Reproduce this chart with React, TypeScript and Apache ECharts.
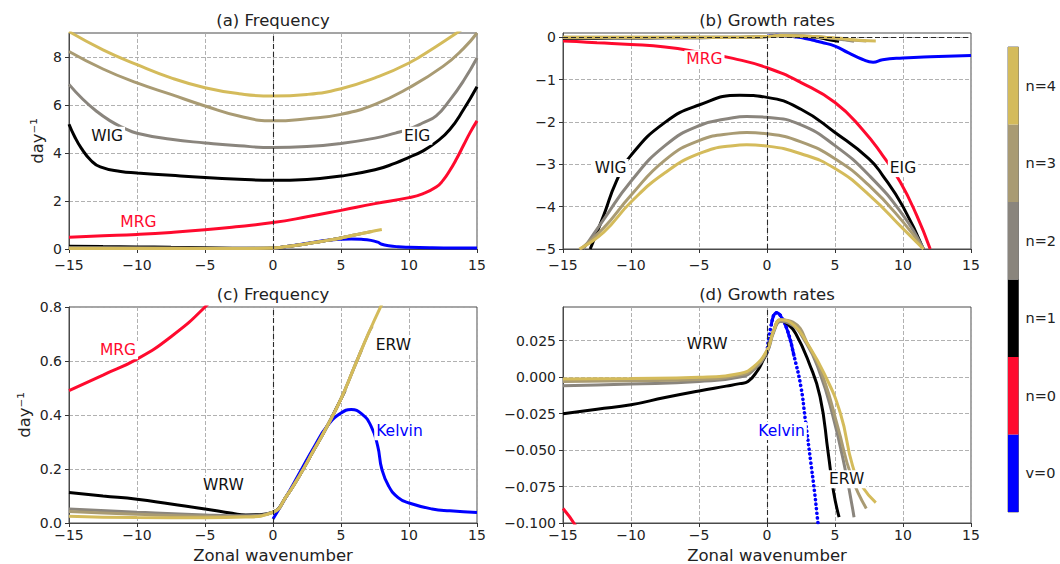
import { useEffect, useRef } from 'react';
import * as echarts from 'echarts';

// ---- Modes / colours (colorbar) ----
const modeNames = ['v=0', 'n=0', 'n=1', 'n=2', 'n=3', 'n=4'];
const modeColors = ['#0000ff', '#ff0a2e', '#000000', '#8a857d', '#a99b73', '#d4bb5b'];

// ---- Frequency (day^-1) vs zonal wavenumber ----
const kelvinFreq = [[0, 0.015], [1, 0.1], [2, 0.19], [3, 0.28], [4, 0.36], [5, 0.407], [5.75, 0.42], [6.5, 0.405], [7.2, 0.36], [7.7, 0.285], [8, 0.2], [8.5, 0.137], [9.2, 0.094], [10, 0.074], [11.7, 0.052], [13, 0.045], [15, 0.039]];
const mrgFreq = [[-15, 0.49], [-12.5, 0.548], [-10, 0.607], [-7.5, 0.69], [-5, 0.8], [-2.5, 0.94], [0, 1.1], [2.5, 1.34], [5, 1.61], [7.5, 1.89], [10, 2.14], [11, 2.3], [12, 2.58], [12.5, 2.86], [13, 3.27], [13.5, 3.76], [14, 4.31], [14.5, 4.86], [15, 5.34]];
const n1IGFreq = [[-15, 5.2], [-14.6, 4.7], [-14.1, 4.2], [-13.4, 3.7], [-12.7, 3.42], [-11.2, 3.23], [-10, 3.17], [-7.5, 3.07], [-5, 2.98], [-2.5, 2.91], [0, 2.86], [2.5, 2.9], [5, 3.04], [7.5, 3.3], [9, 3.58], [10, 3.82], [11, 4.08], [12, 4.45], [13, 4.98], [14, 5.8], [15, 6.76]];
const n2IGFreq = [[-15, 6.86], [-14, 6.25], [-13, 5.75], [-12, 5.35], [-11, 5.05], [-10, 4.82], [-7.5, 4.57], [-5, 4.42], [-2.5, 4.3], [0, 4.23], [2.5, 4.27], [5, 4.4], [7.5, 4.62], [9, 4.83], [10, 5.0], [11, 5.25], [12, 5.55], [13, 6.2], [14, 7.0], [15, 7.96]];
const n3IGFreq = [[-15, 8.23], [-12.5, 7.5], [-10, 6.92], [-7.5, 6.44], [-5, 5.96], [-2.5, 5.54], [0, 5.34], [2.5, 5.43], [5, 5.61], [7.5, 6.03], [10, 6.72], [12.5, 7.61], [14, 8.35], [15, 9.0]];
const n4IGFreq = [[-15, 9.06], [-12.5, 8.3], [-10, 7.68], [-7.5, 7.13], [-5, 6.72], [-2.5, 6.47], [0, 6.37], [2.5, 6.44], [5, 6.68], [7.5, 7.13], [10, 7.75], [12, 8.44], [13.5, 9.0], [14, 9.2]];
const n1RFreq = [[-15, 0.113], [-12.5, 0.1], [-10, 0.088], [-7.5, 0.07], [-5, 0.052], [-3, 0.036], [-2, 0.03], [-1, 0.031], [0, 0.04], [1, 0.1], [2, 0.18], [3, 0.27], [4, 0.36], [5, 0.46], [5.3, 0.49]];
const n2RFreq = [[-15, 0.052], [-10, 0.04], [-5, 0.03], [-2, 0.027], [0, 0.04], [1, 0.1], [2, 0.18], [3, 0.27], [4, 0.36], [5, 0.46], [6, 0.58], [6.5, 0.64]];
const n3RFreq = [[-15, 0.043], [-10, 0.032], [-5, 0.025], [-2, 0.024], [0, 0.04], [1, 0.1], [2, 0.18], [3, 0.27], [4, 0.36], [5, 0.46], [6, 0.58], [7, 0.7], [7.3, 0.73]];
const n4RFreq = [[-15, 0.025], [-10, 0.02], [-5, 0.019], [-2, 0.022], [0, 0.04], [1, 0.1], [2, 0.18], [3, 0.27], [4, 0.36], [5, 0.46], [6, 0.58], [7, 0.7], [8, 0.81]];

// ---- Growth rates (day^-1) vs zonal wavenumber ----
const kelvinGrowth = [[0, 0.017], [0.3, 0.035], [0.7, 0.044], [1, 0.042], [1.5, 0.032], [2, 0.014], [2.5, -0.007], [2.8, -0.028], [3.2, -0.057], [3.5, -0.079], [3.7, -0.096], [4, -0.12], [5, -0.21], [6, -0.37], [7, -0.52], [7.8, -0.59], [8.5, -0.53], [10, -0.49], [12, -0.46], [15, -0.43]];
const mrgGrowth = [[-15, -0.09], [-14, -0.103], [-12.5, -0.13], [-10, -0.17], [-7.5, -0.23], [-5, -0.35], [-2.5, -0.5], [0, -0.72], [2.5, -1.07], [5, -1.54], [7, -2.17], [8.5, -2.79], [9.8, -3.42], [11, -4.2], [12, -5]];
const n1IGGrowth = [[-13, -5], [-12, -4.2], [-11.1, -3.42], [-10, -2.79], [-7.5, -2.01], [-5, -1.6], [-2, -1.37], [0, -1.42], [2.5, -1.7], [5, -2.25], [7.5, -2.87], [8.5, -3.26], [10, -4.0], [11.5, -5]];
const n2IGGrowth = [[-13.5, -5], [-12, -4.3], [-10, -3.4], [-7.5, -2.56], [-5, -2.09], [-2.5, -1.9], [-1.5, -1.87], [0, -1.89], [2.5, -2.07], [5, -2.56], [7.5, -3.26], [10, -4.2], [11.5, -5]];
const n3IGGrowth = [[-13.7, -5], [-12, -4.5], [-10, -3.73], [-7.5, -2.9], [-5, -2.44], [-2.5, -2.27], [-1.5, -2.25], [0, -2.28], [2.5, -2.47], [5, -2.87], [7.5, -3.5], [10, -4.36], [11.5, -5]];
const n4IGGrowth = [[-13.8, -5], [-12, -4.6], [-10, -3.89], [-7.5, -3.2], [-5, -2.75], [-2.5, -2.56], [-1.5, -2.54], [0, -2.57], [2.5, -2.75], [5, -3.1], [7.5, -3.72], [10, -4.52], [11.5, -5]];
const n1RGrowth = [[-15, -0.0252], [-12.5, -0.022], [-10, -0.019], [-7.5, -0.014], [-5, -0.0095], [-3, -0.0062], [-2, -0.0045], [-1.4, -0.003], [-0.66, 0.005], [-0.28, 0.0116], [0, 0.017], [0.5, 0.032], [1, 0.0388], [1.5, 0.0365], [2.1, 0.03], [3.1, 0.0095], [3.9, -0.0134], [4.5, -0.052], [4.9, -0.079], [5.3, -0.096]];
const n2RGrowth = [[-15, -0.006], [-10, -0.0048], [-5, -0.003], [-2, 0], [-1, 0.0048], [0, 0.017], [0.5, 0.031], [1, 0.038], [1.6, 0.037], [2.9, 0.023], [3.9, 0.0025], [4.8, -0.025], [5.7, -0.061], [6.4, -0.096]];
const n3RGrowth = [[-15, -0.003], [-10, -0.0025], [-5, -0.0016], [-2, 0.0014], [-1, 0.0057], [0, 0.018], [0.5, 0.032], [1, 0.0392], [1.9, 0.0376], [3.1, 0.0206], [4.2, -0.002], [5.2, -0.034], [6.2, -0.068], [7.3, -0.09]];
const n4RGrowth = [[-15, -0.0014], [-10, -0.001], [-5, -0.0002], [-2, 0.0025], [-1, 0.007], [0, 0.0184], [0.5, 0.032], [1, 0.0392], [2, 0.0354], [2.9, 0.024], [4.2, 0.0025], [5.4, -0.025], [6.3, -0.061], [7, -0.075], [8, -0.086]];

// ---- Axis ticks ----
const xTicks = [-15, -10, -5, 0, 5, 10, 15];
const yTicksA = [0, 2, 4, 6, 8];
const yTicksB = [-5, -4, -3, -2, -1, 0];
const yTicksC = [0, 0.2, 0.4, 0.6, 0.8];
const yTicksD = [-0.1, -0.075, -0.05, -0.025, 0, 0.025];

// ---- In-plot annotations [x, y] in data units ----
const labelsA = [{ name: 'WIG', x: -12.2, y: 4.72, mode: 2 }, { name: 'EIG', x: 10.6, y: 4.72, mode: 2 }, { name: 'MRG', x: -9.9, y: 1.13, mode: 1 }];
const labelsB = [{ name: 'WIG', x: -11.5, y: -3.09, mode: 2 }, { name: 'EIG', x: 10.0, y: -3.09, mode: 2 }, { name: 'MRG', x: -4.6, y: -0.52, mode: 1 }];
const labelsC = [{ name: 'MRG', x: -11.4, y: 0.64, mode: 1 }, { name: 'WRW', x: -3.65, y: 0.14, mode: 2 }, { name: 'ERW', x: 8.85, y: 0.66, mode: 2 }, { name: 'Kelvin', x: 9.3, y: 0.34, mode: 0 }];
const labelsD = [{ name: 'WRW', x: -4.4, y: 0.0224, mode: 2 }, { name: 'Kelvin', x: 1.07, y: -0.037, mode: 0 }, { name: 'ERW', x: 5.86, y: -0.07, mode: 2 }];

const FONT = 'DejaVu Sans';

const minus = (v: number, d?: number) => {
  const a = Math.abs(v);
  const s = d === undefined ? String(+a.toFixed(6)) : a.toFixed(d);
  return v < -1e-9 ? '\u2212' + s : s;
};

export default function App() {
  const ref = useRef<HTMLDivElement>(null);
  useEffect(() => {
    if (!ref.current) return;
    const chart = echarts.init(ref.current, undefined, { renderer: 'svg' });

    const grids = [
      { left: 69, top: 33, width: 408, height: 216 },
      { left: 563, top: 33, width: 408, height: 216 },
      { left: 69, top: 307, width: 408, height: 216 },
      { left: 563, top: 307, width: 408, height: 216 },
      { left: 1008, top: 47, width: 10.5, height: 465 },
    ].map((g) => ({ ...g, show: true, borderColor: '#4a4a4a', borderWidth: 1, backgroundColor: 'transparent' }));
    grids[4].borderColor = '#777';

    const splitLine = { show: true, lineStyle: { color: '#a8a8a8', type: [4, 2], width: 0.9 } };
    const axisLine = { show: true, lineStyle: { color: '#4a4a4a', width: 1 } };
    const axisTick = (vals: number[]) => ({ show: true, length: 4, lineStyle: { color: '#333' }, customValues: vals });

    const xAxes: any[] = [0, 1, 2, 3].map((i) => ({
      type: 'value', gridIndex: i, min: -15, max: 15, interval: 5,
      axisLine: { ...axisLine, onZero: false }, axisTick: axisTick(xTicks), splitLine,
      axisLabel: { customValues: xTicks, fontSize: 14, fontFamily: FONT, color: '#222', margin: i < 2 ? 9 : 5, formatter: (v: number) => minus(v) },
    }));
    xAxes.push({ type: 'value', gridIndex: 4, min: 0, max: 1, show: false });

    const yDefs = [
      { min: 0, max: 9, interval: 2, ticks: yTicksA, fmt: (v: number) => minus(v) },
      { min: -5, max: 0.1, interval: 1, ticks: yTicksB, fmt: (v: number) => minus(v) },
      { min: 0, max: 0.8, interval: 0.2, ticks: yTicksC, fmt: (v: number) => minus(v, 1) },
      { min: -0.1, max: 0.048, interval: 0.025, ticks: yTicksD, fmt: (v: number) => minus(v, 3) },
    ];
    const yAxes: any[] = yDefs.map((d, i) => ({
      type: 'value', gridIndex: i, min: d.min, max: d.max, interval: d.interval,
      axisLine: { ...axisLine, onZero: false }, axisTick: axisTick(d.ticks), splitLine,
      axisLabel: { customValues: d.ticks, fontSize: 14, fontFamily: FONT, color: '#222', margin: 7, formatter: d.fmt },
    }));
    yAxes.push({
      type: 'category', gridIndex: 4, position: 'right', data: modeNames,
      axisLine: { show: false },
      axisTick: { show: true, alignWithLabel: true, length: 4, lineStyle: { color: '#333' } },
      axisLabel: { fontSize: 14.5, fontFamily: FONT, color: '#222', margin: 7 },
      splitLine: { show: false },
    });

    const freqSets = [[kelvinFreq], [mrgFreq], [n1IGFreq, n1RFreq], [n2IGFreq, n2RFreq], [n3IGFreq, n3RFreq], [n4IGFreq, n4RFreq]];
    const growthSets = [[kelvinGrowth], [mrgGrowth], [n1IGGrowth, n1RGrowth], [n2IGGrowth, n2RGrowth], [n3IGGrowth, n3RGrowth], [n4IGGrowth, n4RGrowth]];

    const series: any[] = [];
    const lineS = (gi: number, data: number[][], color: string, extra: any = {}) => ({
      type: 'line', xAxisIndex: gi, yAxisIndex: gi, data, showSymbol: false, symbol: 'none',
      smooth: 0.5, clip: true, silent: true,
      lineStyle: { color, width: 3, ...extra },
    });
    const addPanel = (gi: number, sets: number[][][][], zeroH: boolean, dottedKelvin: boolean) => {
      const ml: any[] = [{ xAxis: 0 }];
      if (zeroH) ml.push({ yAxis: 0 });
      series.push({
        type: 'line', xAxisIndex: gi, yAxisIndex: gi, data: [], silent: true,
        markLine: { silent: true, symbol: 'none', label: { show: false }, animation: false,
          lineStyle: { color: '#2a2a2a', type: [5, 3], width: 1.1 }, data: ml },
      });
      sets.forEach((branches, m) => {
        branches.forEach((data) => {
          if (m === 0 && dottedKelvin) {
            series.push(lineS(gi, data, modeColors[0], { type: [0.1, 4.5], cap: 'round', width: 3.6 }));
            series.push(lineS(gi, data.slice(1, 6), modeColors[0]));
          } else {
            series.push(lineS(gi, data, modeColors[m]));
          }
        });
      });
    };
    addPanel(0, freqSets, false, false);
    addPanel(1, growthSets, true, false);
    addPanel(2, freqSets, false, false);
    addPanel(3, growthSets, false, true);

    const addLabels = (gi: number, labels: any[]) => {
      series.push({
        type: 'scatter', xAxisIndex: gi, yAxisIndex: gi, z: 6, symbolSize: 0, silent: true,
        itemStyle: { opacity: 1 },
        data: labels.map((l) => ({
          value: [l.x, l.y], name: l.name,
          label: { color: l.mode === 2 ? '#111111' : modeColors[l.mode] },
        })),
        label: { show: true, position: 'inside', formatter: '{b}', fontSize: 15.5, fontFamily: FONT,
          backgroundColor: '#ffffff', padding: [1, 2], textBorderWidth: 0, textBorderColor: 'transparent',
          textShadowBlur: 0, opacity: 1 },
      });
    };
    addLabels(0, labelsA);
    addLabels(1, labelsB);
    addLabels(2, labelsC);
    addLabels(3, labelsD);

    series.push({
      type: 'bar', xAxisIndex: 4, yAxisIndex: 4, barWidth: '100%', barCategoryGap: '0%', silent: true,
      data: modeColors.map((c) => ({ value: 1, itemStyle: { color: c } })),
    });

    const txt = (text: string, x: number, y: number, rot = 0, size = 16.5) => ({
      type: 'text', x, y, rotation: rot, silent: true,
      style: { text, fontSize: size, fontFamily: FONT, fill: '#222', align: 'center', verticalAlign: 'middle', textAlign: 'center', textVerticalAlign: 'middle' },
    });

    chart.setOption({
      animation: false,
      backgroundColor: '#ffffff',
      grid: grids,
      xAxis: xAxes,
      yAxis: yAxes,
      series,
      graphic: [
        txt('(a) Frequency', 273, 20),
        txt('(b) Growth rates', 767, 20),
        txt('(c) Frequency', 273, 294),
        txt('(d) Growth rates', 767, 294),
        txt('day\u207B\u00B9', 37, 141, Math.PI / 2),
        txt('day\u207B\u00B9', 24, 415, Math.PI / 2),
        txt('Zonal wavenumber', 273, 555),
        txt('Zonal wavenumber', 767, 555),
      ],
    });
    return () => chart.dispose();
  }, []);
  return <div ref={ref} style={{ position: 'absolute', left: 0, top: 0, width: 1060, height: 564 }} />;
}
